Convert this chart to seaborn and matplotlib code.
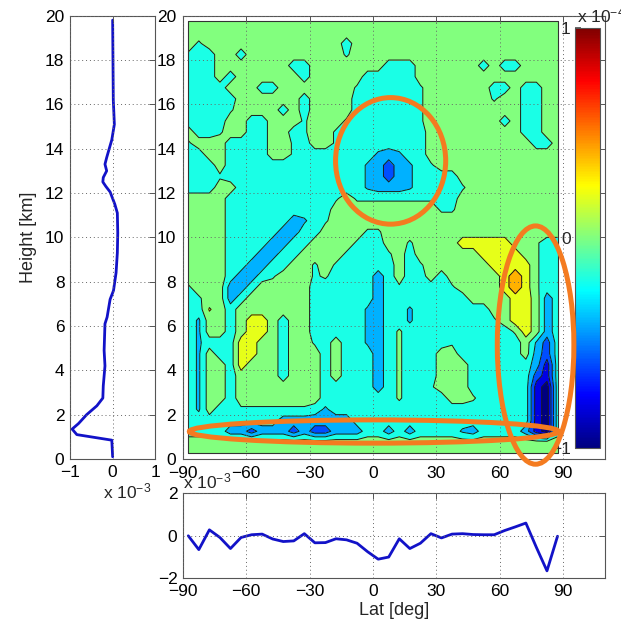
import numpy as np
import matplotlib
matplotlib.use("Agg")
import matplotlib.pyplot as plt
from matplotlib.patches import Ellipse
from matplotlib.colors import Normalize, LinearSegmentedColormap
from matplotlib.cm import ScalarMappable
import seaborn as sns

# --------------------------------------------------------------------------
# data
# --------------------------------------------------------------------------
LAT = np.arange(-87.5, 90, 5)        # grid columns [deg]
HEIGHT = np.arange(0.25, 20, 0.5)    # grid rows [km]

# field values (x 1e-4), one symbol per grid point
CODE_VALUE = {'N': -0.9, 'D': -0.7, 'B': -0.5, 'b': -0.3, 'w': -0.23,
              'c': -0.1, 'k': -0.03, 'g': 0.03, '.': 0.1, 'Y': 0.22,
              'y': 0.3, 'o': 0.55}

# rows from top (19.75 km) down to 0.25 km, columns -87.5 .. 87.5
FIELD_ROWS = [
    "....." "....." "....." "....." "....." "....." "......",
    "....." "....." "....." "....." "....." "....." "......",
    ".k..." "....." "....." "c...." "....." "....." "......",
    "kcc.." "c...." "....." "k...." "....." "....." "......",
    "ccc.." "....." "cc..." "....c" "cc..." "...c." "cc....",
    "ccc.c" "....." ".c..." "..ccc" "cc..." "....." "......",
    "cccc." "..cc." "....." ".kccc" "cck.." "....c" "c.cc..",
    "ccccc" "....." ".c..." ".cccc" "cck.." "....k" "..cc..",
    "cccck" "....c" ".c..." ".cccc" "cck.." "....." "..cc..",
    "cccc." ".cc.." ".k..." "kcccc" "cck.." "....." "c.cc..",
    ".cck." ".cc.." "ck..k" "ccccc" "ccc.." "....." "..cc..",
    "k...c" "ccc.." "kc..k" "ccccc" "ccc.." "....." "...cc.",
    "cc..c" "ccc.." "kcccc" "cccwb" "wcc.." "....." "......",
    "ccc.c" "ccccc" "ccccc" "ccwbB" "bwck." "....." "......",
    "ccckc" "ccccc" "ccccc" "ccwbB" "bwccc" "c...." "......",
    "ccc.." "ccccc" "ccccc" "ccwbb" "bwccc" "ck..." "......",
    "....c" "ccccc" "cccck" ".kkkk" "kkkkc" "c...." "......",
    "....c" "ccccc" "cccc." "....." "....k" "k...." "......",
    "....c" "ccccc" "bwck." "....." "....." "....." "......",
    "....c" "ccccb" "bcc.." "..kk." "....." "....." "......",
    "....c" "cccbb" "cc..." ".kcc." ".k..." ".yyyy" "y..gcc",
    "....c" "ccbbc" "c...." "kccck" ".c..." "...yy" "yy.gcc",
    "....c" "cbbcc" "..k.k" "ccccc" ".ck.." "....y" "yyygcc",
    "....c" "bbck." "..kgc" "cccbc" ".cc.c" "....." "yoygcc",
    "k...b" "bc..." "..ccc" "cccbc" "kcccc" "k...." "yoygcc",
    "ck..b" "c...." "..ccc" "cccbc" "ccccc" "cc..." ".yy.bc",
    "ccY.c" "....." "..ccc" "ccwbc" "cwccc" "cccc." ".yy.bc",
    "cw..c" ".yy.c" "..ccc" "ccwbc" "cwccc" "cccck" ".yy.bc",
    "cw..c" ".yy.c" "..ccc" "ccwbc" "gcccc" "ccccc" "cgy.bc",
    "cwccc" "yy..c" "..kc." "ccwbc" "gcccc" "kcccc" "cc.wBc",
    "cw.cc" "yy..c" "...c." "cccbc" "gccc." ".cccc" "cc.bBc",
    "cw..c" "y...c" "...c." "cccbc" "gccc." "..ccc" "cccbDc",
    "cw..c" "....c" "...c." "cccbc" "gccc." "..ccc" "cccBDc",
    "cw..c" "....." "...cc" "cccbc" "gcck." "..ccc" "cccDNc",
    "cw..c" "....." "...cc" "ccccc" "gcccc" "..gcc" "cccDNc",
    "cw.cc" "kkkkk" "kkcwc" "ccccc" "ccccc" "ccccc" "cccDNc",
    "ccccc" "ccccb" "bbbbb" "bcccc" "ccccc" "ccccc" "cccDNc",
    "ccccb" "bBbbb" "BbBBb" "bbccb" "cbccc" "cwbcc" "ccbDNc",
    "....." "....." "....." "....." "....." "....." "......",
    "....." "....." "....." "....." "....." "....." "......",
]

# zonal-mean profile (left panel, x 1e-3)
PROFILE_HEIGHT = [0.1, 0.85, 1.1, 1.35, 1.6, 2.0, 2.4, 2.75, 3.3, 4.2, 4.9,
                  6.1, 6.4, 7.2, 7.6, 8.4, 9.3, 10.2, 11.1, 11.5, 12.05,
                  12.3, 12.5, 12.7, 13.0, 13.3, 13.6, 14.4, 15.1, 16.2, 19.8]
PROFILE_VALUE = [0.0, -0.02, -0.84, -0.95, -0.8, -0.61, -0.37, -0.23, -0.22,
                 -0.18, -0.2, -0.18, -0.13, -0.06, 0.02, 0.08, 0.11, 0.12,
                 0.11, 0.05, -0.06, -0.16, -0.23, -0.22, -0.14, -0.18, -0.14,
                 -0.02, 0.04, 0.015, 0.0]

# vertical mean per latitude (bottom panel, x 1e-3)
MEAN_VALUE = [0.0, -0.65, 0.28, -0.08, -0.6, -0.08, 0.05, 0.08, -0.15, -0.27,
              -0.24, 0.1, -0.33, -0.32, -0.14, -0.19, -0.35, -0.75, -1.1, -1.0,
              -0.14, -0.6, -0.35, 0.1, -0.1, 0.08, 0.1, 0.06, 0.05, 0.05,
              0.25, 0.42, 0.6, -0.55, -1.65, -0.02]

LEVELS = np.linspace(-1, 1, 11)
X_TICKS = [-90, -60, -30, 0, 30, 60, 90]
H_TICKS = list(range(0, 21, 2))

LINE_BLUE = '#1212C8'
ORANGE = '#F47B20'
FRAME = '#555555'

# matlab-style jet
JET = LinearSegmentedColormap('mjet', {
    'red': [(0, 0, 0), (0.375, 0, 0), (0.625, 1, 1), (0.875, 1, 1), (1, 0.5, 0.5)],
    'green': [(0, 0, 0), (0.125, 0, 0), (0.375, 1, 1), (0.625, 1, 1), (0.875, 0, 0), (1, 0, 0)],
    'blue': [(0, 0.5, 0.5), (0.125, 1, 1), (0.375, 1, 1), (0.625, 0, 0), (1, 0, 0)],
}, N=256)

# --------------------------------------------------------------------------
# style
# --------------------------------------------------------------------------
sns.set_theme(style="white")
plt.rcParams['font.family'] = ['Liberation Sans', 'DejaVu Sans']
plt.rcParams['mathtext.default'] = 'regular'

W, H = 621, 624


def box(x0, y0, x1, y1):
    # pixel box (top-left origin) -> figure fraction
    return [x0 / W, 1 - y1 / H, (x1 - x0) / W, (y1 - y0) / H]


def matlab_axes(ax):
    for s in ax.spines.values():
        s.set_visible(True)
        s.set_color(FRAME)
        s.set_linewidth(0.8)
    ax.tick_params(direction='in', length=4, width=0.7, color=FRAME,
                   top=True, right=True, labelsize=12.5, labelcolor='black',
                   pad=4)
    ax.grid(True, linestyle=(0, (1, 3)), color='#666666', linewidth=0.7)
    ax.set_axisbelow(False)


fig = plt.figure(figsize=(W / 100, H / 100), dpi=100)
ax_prof = fig.add_axes(box(70, 15.7, 155.3, 459))
ax_main = fig.add_axes(box(183, 15.7, 605, 459))
cax = fig.add_axes(box(575, 28, 599.5, 448))
ax_mean = fig.add_axes(box(183, 493.3, 605, 578.3))

# --------------------------------------------------------------------------
# main contour panel
# --------------------------------------------------------------------------
field = np.array([[CODE_VALUE[ch] for ch in row] for row in FIELD_ROWS[::-1]])
norm = Normalize(-1, 1)
fill_colors = [JET(norm(lv)) for lv in LEVELS[:-1]]

ax_main.contourf(LAT, HEIGHT, field, levels=LEVELS, colors=fill_colors)
ax_main.contour(LAT, HEIGHT, field, levels=LEVELS, colors='k',
                linewidths=0.7, linestyles='solid')
ax_main.plot([LAT[0], LAT[-1], LAT[-1], LAT[0], LAT[0]],
             [HEIGHT[0], HEIGHT[0], HEIGHT[-1], HEIGHT[-1], HEIGHT[0]],
             color='#333333', lw=0.8)
ax_main.set_xlim(-90, 110)
ax_main.set_ylim(0, 20)
ax_main.set_xticks(X_TICKS)
ax_main.set_yticks(H_TICKS)
matlab_axes(ax_main)
ax_main.tick_params(pad=5)

sm = ScalarMappable(norm=norm, cmap=JET)
cb = fig.colorbar(sm, cax=cax, ticks=[-1, 0, 1])
cax.yaxis.set_ticks_position('left')
cax.tick_params(labelsize=12.5, length=4, direction='in', pad=3,
                color=FRAME)
cb.outline.set_edgecolor(FRAME)
cb.outline.set_linewidth(0.8)
fig.text(577 / W, 1 - 22 / H, 'x 10$^{-4}$', fontsize=12.5)

# --------------------------------------------------------------------------
# left profile
# --------------------------------------------------------------------------
sns.lineplot(x=PROFILE_VALUE, y=PROFILE_HEIGHT, orient='y', sort=False,
             estimator=None, color=LINE_BLUE, linewidth=2, ax=ax_prof)
ax_prof.set_xlim(-1, 1)
ax_prof.set_ylim(0, 20)
ax_prof.set_xticks([-1, 0, 1])
ax_prof.set_yticks(H_TICKS)
ax_prof.set_xlabel('')
ax_prof.set_ylabel('Height [km]', fontsize=13, labelpad=6)
matlab_axes(ax_prof)
fig.text(103 / W, 1 - 498 / H, 'x 10$^{-3}$', fontsize=12.5)

# --------------------------------------------------------------------------
# bottom latitude mean
# --------------------------------------------------------------------------
sns.lineplot(x=LAT, y=MEAN_VALUE, color=LINE_BLUE, linewidth=2, ax=ax_mean)
ax_mean.set_xlim(-90, 110)
ax_mean.set_ylim(-2, 2)
ax_mean.set_xticks(X_TICKS)
ax_mean.set_yticks([-2, 0, 2])
ax_mean.set_xlabel('Lat [deg]', fontsize=13, labelpad=2)
ax_mean.set_ylabel('')
matlab_axes(ax_mean)
fig.text(183 / W, 1 - 488 / H, 'x 10$^{-3}$', fontsize=12.5)

# --------------------------------------------------------------------------
# orange highlight ellipses
# --------------------------------------------------------------------------
for (cx, cy, ew, eh) in [(8.4, 13.45, 52.2, 5.71),
                         (0.5, 1.24, 175.0, 1.05),
                         (77.1, 5.14, 36.3, 10.75)]:
    fig.add_artist(Ellipse((cx, cy), ew, eh, transform=ax_main.transData,
                           fill=False, edgecolor=ORANGE, linewidth=3.6))

fig.savefig('out.png', dpi=100)
